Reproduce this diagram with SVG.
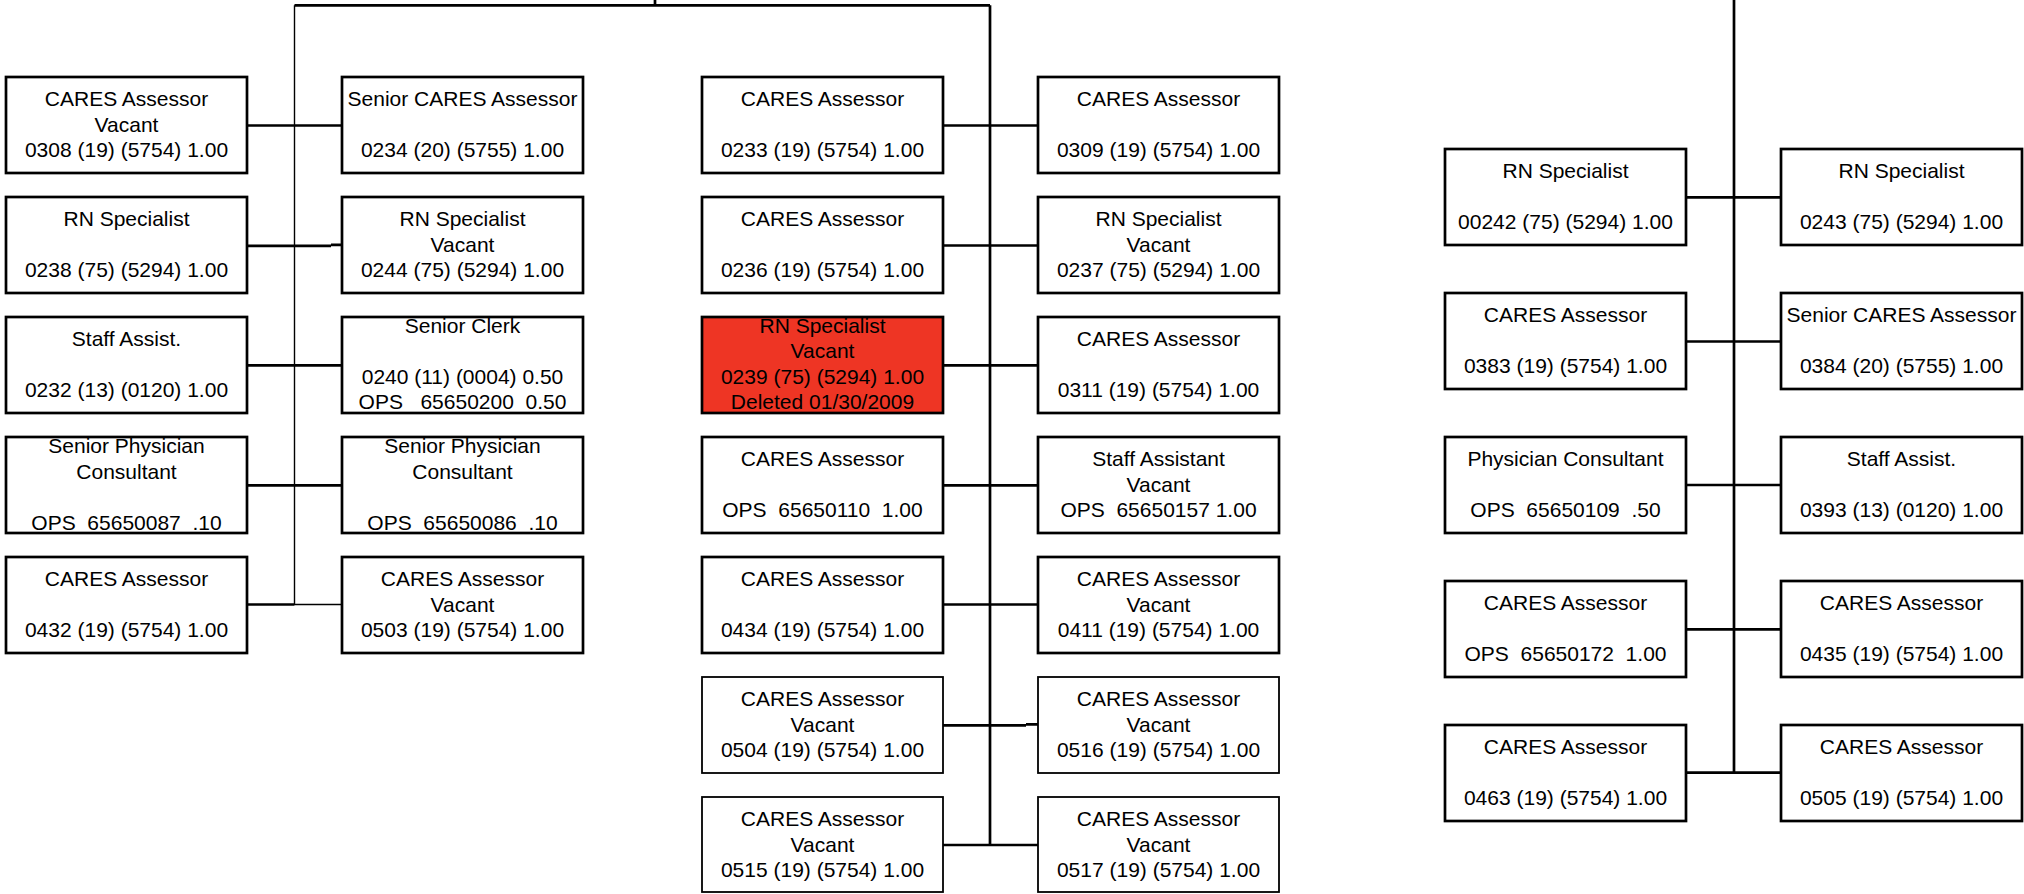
<svg xmlns="http://www.w3.org/2000/svg" width="2024" height="894" viewBox="0 0 2024 894">
<style>
  .box { fill: #ffffff; stroke: #000000; stroke-width: 2.7; }
  .box.thin { stroke-width: 1.8; }
  .box.del { fill: #ee3524; }
  .t { font-family: "Liberation Sans", Arial, sans-serif; font-size: 21px; fill: #000000; text-anchor: middle; }
  .ln { stroke: #000000; stroke-width: 2.7; fill: none; }
  .ln.hair { stroke-width: 1.4; }
</style>
<rect width="2024" height="894" fill="#ffffff"/>

<!-- connectors -->
<g id="connectors">
  <!-- top bar and spines -->
  <path class="ln" d="M294.5 5.3 H990 M655 0 V5.3"/>
  <path class="ln hair" d="M294.5 5.3 V605"/>
  <path class="ln" d="M990 5.3 V845.5"/>
  <path class="ln" d="M1734 0 V773"/>
  <!-- left group rows -->
  <path class="ln" d="M247 125.5 H342"/>
  <path class="ln" d="M247 245.8 H331 M331 244.8 H342"/>
  <path class="ln" d="M247 365.3 H342"/>
  <path class="ln" d="M247 485.3 H342"/>
  <path class="ln" d="M247 604.5 H294.5"/>
  <path class="ln hair" d="M294.5 604.5 H342"/>
  <!-- middle group rows -->
  <path class="ln" d="M943 125.5 H1038"/>
  <path class="ln" d="M943 245.5 H1038"/>
  <path class="ln" d="M943 365.3 H1038"/>
  <path class="ln" d="M943 485.3 H1038"/>
  <path class="ln" d="M943 604.5 H1038"/>
  <path class="ln" d="M943 725.3 H1026 M1026 724.3 H1038"/>
  <path class="ln" d="M943 845 H1038"/>
  <!-- right group rows -->
  <path class="ln" d="M1686 197.3 H1781"/>
  <path class="ln" d="M1686 341.5 H1781"/>
  <path class="ln" d="M1686 485 H1781"/>
  <path class="ln" d="M1686 629.3 H1781"/>
  <path class="ln" d="M1686 772.7 H1781"/>
</g>

<!-- left group -->
<g id="n0308" transform="translate(6,77)"><rect class="box" width="241" height="96"/>
  <text class="t" x="120.5" y="29">CARES Assessor</text><text class="t" x="120.5" y="54.5">Vacant</text><text class="t" x="120.5" y="80">0308 (19) (5754) 1.00</text></g>
<g id="n0234" transform="translate(342,77)"><rect class="box" width="241" height="96"/>
  <text class="t" x="120.5" y="29">Senior CARES Assessor</text><text class="t" x="120.5" y="80">0234 (20) (5755) 1.00</text></g>
<g id="n0238" transform="translate(6,197)"><rect class="box" width="241" height="96"/>
  <text class="t" x="120.5" y="29">RN Specialist</text><text class="t" x="120.5" y="80">0238 (75) (5294) 1.00</text></g>
<g id="n0244" transform="translate(342,197)"><rect class="box" width="241" height="96"/>
  <text class="t" x="120.5" y="29">RN Specialist</text><text class="t" x="120.5" y="54.5">Vacant</text><text class="t" x="120.5" y="80">0244 (75) (5294) 1.00</text></g>
<g id="n0232" transform="translate(6,317)"><rect class="box" width="241" height="96"/>
  <text class="t" x="120.5" y="29">Staff Assist.</text><text class="t" x="120.5" y="80">0232 (13) (0120) 1.00</text></g>
<g id="n0240" transform="translate(342,317)"><rect class="box" width="241" height="96"/>
  <text class="t" x="120.5" y="15.5">Senior Clerk</text><text class="t" x="120.5" y="66.5">0240 (11) (0004) 0.50</text><text class="t" x="120.5" y="92" xml:space="preserve">OPS   65650200  0.50</text></g>
<g id="n65650087" transform="translate(6,437)"><rect class="box" width="241" height="96"/>
  <text class="t" x="120.5" y="16">Senior Physician</text><text class="t" x="120.5" y="41.5">Consultant</text><text class="t" x="120.5" y="92.5" xml:space="preserve">OPS  65650087  .10</text></g>
<g id="n65650086" transform="translate(342,437)"><rect class="box" width="241" height="96"/>
  <text class="t" x="120.5" y="16">Senior Physician</text><text class="t" x="120.5" y="41.5">Consultant</text><text class="t" x="120.5" y="92.5" xml:space="preserve">OPS  65650086  .10</text></g>
<g id="n0432" transform="translate(6,557)"><rect class="box" width="241" height="96"/>
  <text class="t" x="120.5" y="29">CARES Assessor</text><text class="t" x="120.5" y="80">0432 (19) (5754) 1.00</text></g>
<g id="n0503" transform="translate(342,557)"><rect class="box" width="241" height="96"/>
  <text class="t" x="120.5" y="29">CARES Assessor</text><text class="t" x="120.5" y="54.5">Vacant</text><text class="t" x="120.5" y="80">0503 (19) (5754) 1.00</text></g>

<!-- middle group -->
<g id="n0233" transform="translate(702,77)"><rect class="box" width="241" height="96"/>
  <text class="t" x="120.5" y="29">CARES Assessor</text><text class="t" x="120.5" y="80">0233 (19) (5754) 1.00</text></g>
<g id="n0309" transform="translate(1038,77)"><rect class="box" width="241" height="96"/>
  <text class="t" x="120.5" y="29">CARES Assessor</text><text class="t" x="120.5" y="80">0309 (19) (5754) 1.00</text></g>
<g id="n0236" transform="translate(702,197)"><rect class="box" width="241" height="96"/>
  <text class="t" x="120.5" y="29">CARES Assessor</text><text class="t" x="120.5" y="80">0236 (19) (5754) 1.00</text></g>
<g id="n0237" transform="translate(1038,197)"><rect class="box" width="241" height="96"/>
  <text class="t" x="120.5" y="29">RN Specialist</text><text class="t" x="120.5" y="54.5">Vacant</text><text class="t" x="120.5" y="80">0237 (75) (5294) 1.00</text></g>
<g id="n0239" transform="translate(702,317)"><rect class="box del" width="241" height="96"/>
  <text class="t" x="120.5" y="15.5">RN Specialist</text><text class="t" x="120.5" y="41">Vacant</text><text class="t" x="120.5" y="66.5">0239 (75) (5294) 1.00</text><text class="t" x="120.5" y="92">Deleted 01/30/2009</text></g>
<g id="n0311" transform="translate(1038,317)"><rect class="box" width="241" height="96"/>
  <text class="t" x="120.5" y="29">CARES Assessor</text><text class="t" x="120.5" y="80">0311 (19) (5754) 1.00</text></g>
<g id="n65650110" transform="translate(702,437)"><rect class="box" width="241" height="96"/>
  <text class="t" x="120.5" y="29">CARES Assessor</text><text class="t" x="120.5" y="80" xml:space="preserve">OPS  65650110  1.00</text></g>
<g id="n65650157" transform="translate(1038,437)"><rect class="box" width="241" height="96"/>
  <text class="t" x="120.5" y="29">Staff Assistant</text><text class="t" x="120.5" y="54.5">Vacant</text><text class="t" x="120.5" y="80" xml:space="preserve">OPS  65650157 1.00</text></g>
<g id="n0434" transform="translate(702,557)"><rect class="box" width="241" height="96"/>
  <text class="t" x="120.5" y="29">CARES Assessor</text><text class="t" x="120.5" y="80">0434 (19) (5754) 1.00</text></g>
<g id="n0411" transform="translate(1038,557)"><rect class="box" width="241" height="96"/>
  <text class="t" x="120.5" y="29">CARES Assessor</text><text class="t" x="120.5" y="54.5">Vacant</text><text class="t" x="120.5" y="80">0411 (19) (5754) 1.00</text></g>
<g id="n0504" transform="translate(702,677)"><rect class="box thin" width="241" height="96"/>
  <text class="t" x="120.5" y="29">CARES Assessor</text><text class="t" x="120.5" y="54.5">Vacant</text><text class="t" x="120.5" y="80">0504 (19) (5754) 1.00</text></g>
<g id="n0516" transform="translate(1038,677)"><rect class="box thin" width="241" height="96"/>
  <text class="t" x="120.5" y="29">CARES Assessor</text><text class="t" x="120.5" y="54.5">Vacant</text><text class="t" x="120.5" y="80">0516 (19) (5754) 1.00</text></g>
<g id="n0515" transform="translate(702,797)"><rect class="box thin" width="241" height="95"/>
  <text class="t" x="120.5" y="29">CARES Assessor</text><text class="t" x="120.5" y="54.5">Vacant</text><text class="t" x="120.5" y="80">0515 (19) (5754) 1.00</text></g>
<g id="n0517" transform="translate(1038,797)"><rect class="box thin" width="241" height="95"/>
  <text class="t" x="120.5" y="29">CARES Assessor</text><text class="t" x="120.5" y="54.5">Vacant</text><text class="t" x="120.5" y="80">0517 (19) (5754) 1.00</text></g>

<!-- right group -->
<g id="n00242" transform="translate(1445,149)"><rect class="box" width="241" height="96"/>
  <text class="t" x="120.5" y="29">RN Specialist</text><text class="t" x="120.5" y="80">00242 (75) (5294) 1.00</text></g>
<g id="n0243" transform="translate(1781,149)"><rect class="box" width="241" height="96"/>
  <text class="t" x="120.5" y="29">RN Specialist</text><text class="t" x="120.5" y="80">0243 (75) (5294) 1.00</text></g>
<g id="n0383" transform="translate(1445,293)"><rect class="box" width="241" height="96"/>
  <text class="t" x="120.5" y="29">CARES Assessor</text><text class="t" x="120.5" y="80">0383 (19) (5754) 1.00</text></g>
<g id="n0384" transform="translate(1781,293)"><rect class="box" width="241" height="96"/>
  <text class="t" x="120.5" y="29">Senior CARES Assessor</text><text class="t" x="120.5" y="80">0384 (20) (5755) 1.00</text></g>
<g id="n65650109" transform="translate(1445,437)"><rect class="box" width="241" height="96"/>
  <text class="t" x="120.5" y="29">Physician Consultant</text><text class="t" x="120.5" y="80" xml:space="preserve">OPS  65650109  .50</text></g>
<g id="n0393" transform="translate(1781,437)"><rect class="box" width="241" height="96"/>
  <text class="t" x="120.5" y="29">Staff Assist.</text><text class="t" x="120.5" y="80">0393 (13) (0120) 1.00</text></g>
<g id="n65650172" transform="translate(1445,581)"><rect class="box" width="241" height="96"/>
  <text class="t" x="120.5" y="29">CARES Assessor</text><text class="t" x="120.5" y="80" xml:space="preserve">OPS  65650172  1.00</text></g>
<g id="n0435" transform="translate(1781,581)"><rect class="box" width="241" height="96"/>
  <text class="t" x="120.5" y="29">CARES Assessor</text><text class="t" x="120.5" y="80">0435 (19) (5754) 1.00</text></g>
<g id="n0463" transform="translate(1445,725)"><rect class="box" width="241" height="96"/>
  <text class="t" x="120.5" y="29">CARES Assessor</text><text class="t" x="120.5" y="80">0463 (19) (5754) 1.00</text></g>
<g id="n0505" transform="translate(1781,725)"><rect class="box" width="241" height="96"/>
  <text class="t" x="120.5" y="29">CARES Assessor</text><text class="t" x="120.5" y="80">0505 (19) (5754) 1.00</text></g>
</svg>
